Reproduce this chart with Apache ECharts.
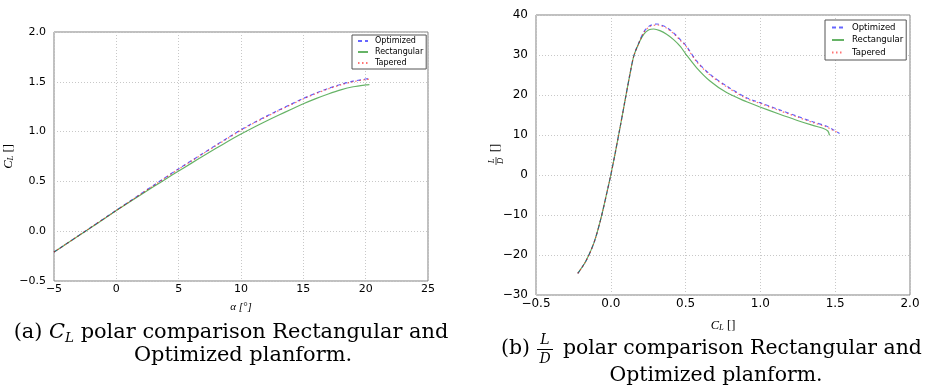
<!DOCTYPE html>
<html>
<head>
<meta charset="utf-8">
<script src="https://cdn.jsdelivr.net/npm/echarts@6/dist/echarts.min.js"></script>
<style>
html,body{margin:0;padding:0;background:#fff;}
#chart{width:932px;height:390px;}
</style>
</head>
<body>
<div id="chart"></div>
<script>
// ---------- Left chart: C_L vs alpha ----------
const alpha = [-5,-4,-3,-2,-1,0,1,2,3,4,5,6,7,8,9,10,11,12,13,14,15,16,17,18,19,20,20.3];
const clOptimized   = [-0.21,-0.126,-0.042,0.042,0.126,0.21,0.294,0.378,0.462,0.545,0.627,0.706,0.785,0.864,0.942,1.018,1.088,1.152,1.214,1.274,1.333,1.386,1.434,1.474,1.506,1.528,1.533];
const clRectangular = [-0.21,-0.127,-0.044,0.039,0.123,0.207,0.288,0.368,0.448,0.527,0.605,0.681,0.757,0.832,0.905,0.975,1.041,1.104,1.164,1.222,1.279,1.331,1.378,1.419,1.450,1.469,1.472];
const clTapered     = [-0.21,-0.126,-0.042,0.042,0.126,0.209,0.292,0.376,0.459,0.542,0.623,0.702,0.781,0.859,0.937,1.013,1.083,1.147,1.209,1.269,1.328,1.381,1.429,1.469,1.501,1.523,1.527];

// ---------- Right chart: L/D vs C_L ----------
const rOptCL = [-0.221,-0.169,-0.114,-0.069,-0.025,0,0.031,0.065,0.098,0.131,0.154,0.187,0.221,0.26,0.31,0.328,0.373,0.418,0.466,0.5,0.574,0.663,0.774,0.908,0.997,1.12,1.242,1.351,1.44,1.484,1.529];
const rOptLD = [-24.6,-21.7,-17.1,-11.3,-4.2,0,5.8,12.5,19.2,25.8,29.8,33.0,35.8,37.3,37.75,37.6,36.9,35.6,33.8,32.5,28.5,25.2,22.25,19.3,18.1,16.4,14.75,13.3,12.25,11.4,10.4];
const rRectCL = [-0.221,-0.169,-0.114,-0.069,-0.025,0,0.031,0.065,0.098,0.131,0.154,0.187,0.221,0.255,0.287,0.328,0.373,0.418,0.466,0.5,0.574,0.663,0.774,0.908,0.997,1.12,1.242,1.351,1.418,1.451,1.462];
const rRectLD = [-24.6,-21.7,-17.1,-11.3,-4.2,0,5.8,12.5,19.2,25.8,29.8,32.9,35.2,36.3,36.5,36.1,35.2,33.9,32.1,30.3,26.8,23.5,20.6,18.3,17.0,15.3,13.7,12.4,11.7,11.0,9.9];
const rTapCL = [-0.221,-0.169,-0.114,-0.069,-0.025,0,0.031,0.065,0.098,0.131,0.154,0.187,0.221,0.26,0.31,0.328,0.373,0.418,0.466,0.5,0.574,0.663,0.774,0.908,0.997,1.12,1.242,1.351,1.44,1.484,1.525];
const rTapLD = [-24.6,-21.7,-17.1,-11.3,-4.2,0,5.8,12.5,19.2,25.8,29.8,32.9,35.6,37.1,37.5,37.4,36.7,35.4,33.6,32.3,28.3,25.0,22.05,19.1,17.9,16.2,14.55,13.1,12.05,11.2,10.5];

// tick ranges
const leftX = {min:-5, max:25, interval:5};
const leftY = {min:-0.5, max:2.0, interval:0.5};
const rightX = {min:-0.5, max:2.0, interval:0.5};
const rightY = {min:-30, max:40, interval:10};

const seriesNames = ['Optimized','Rectangular','Tapered'];

const zip = (xs, ys) => xs.map((x,i)=>[x, ys[i]]);

const tickFont = 'DejaVu Sans';
const serif = 'Liberation Serif';
const capSerif = 'DejaVu Serif';
const styles = [
  {color:'rgba(0,0,255,0.6)', type:[4,3]},
  {color:'rgba(0,128,0,0.6)', type:'solid'},
  {color:'rgba(255,0,0,0.55)', type:[1.5,2.5]}
];

function mkSeries(name, idx, data, axisIdx){
  return {
    name, type:'line', xAxisIndex:axisIdx, yAxisIndex:axisIdx, data,
    symbol:'none', smooth:0.3, animation:false,
    lineStyle:{width:1.2, color:styles[idx].color, type:styles[idx].type},
    itemStyle:{color:styles[idx].color}
  };
}

const gridLine = {show:true, lineStyle:{color:'#c8c8c8', type:[1,2], width:1}};
function valAxis(rng, gridIdx, fs, extra){
  return Object.assign({
    type:'value', gridIndex:gridIdx, min:rng.min, max:rng.max, interval:rng.interval,
    axisLine:{show:false}, axisTick:{show:false}, splitLine:gridLine,
    axisLabel:{color:'#000', fontFamily:tickFont, fontSize:fs,
      formatter:(v)=>{ let s = (rng.interval<1)? v.toFixed(1) : String(Math.round(v)); return s.replace('-', '\u2212'); }}
  }, extra);
}

const nameRich = {
  i:{fontFamily:serif, fontStyle:'italic', fontSize:12.5, color:'#000'},
  s:{fontFamily:serif, fontStyle:'italic', fontSize:8.5, color:'#000', padding:[4,0,0,0]},
  n:{fontFamily:serif, fontSize:12.5, color:'#000'}
};

const capFS = 20.9;
const capFS2 = 20.4;
const capRich = {
  i:{fontFamily:capSerif, fontStyle:'italic', fontSize:capFS, fill:'#000'},
  s:{fontFamily:capSerif, fontStyle:'italic', fontSize:13.5, fill:'#000', padding:[10,0,0,0]}
};

const legendCommon = {
  data:seriesNames, orient:'vertical', borderColor:'#555', borderWidth:1, backgroundColor:'#fff',
  itemStyle:{opacity:0}
};

const chart = echarts.init(document.getElementById('chart'), null, {renderer:'canvas'});
chart.setOption({
  animation:false,
  backgroundColor:'#fff',
  grid:[
    {left:54, right:504, top:32, bottom:109, show:true, borderColor:'#808080', borderWidth:1},
    {left:536, right:22, top:15, bottom:95, show:true, borderColor:'#808080', borderWidth:1}
  ],
  legend:[
    Object.assign({}, legendCommon, {left:352, top:35, itemWidth:10, itemHeight:8, itemGap:3,
     padding:[2,3,2,5], textStyle:{fontFamily:tickFont, fontSize:8, color:'#000', padding:[0,0,0,2]}}),
    Object.assign({}, legendCommon, {left:825, top:20, itemWidth:12, itemHeight:9, itemGap:3.5,
     padding:[3,3,3,6], textStyle:{fontFamily:tickFont, fontSize:8.5, color:'#000', padding:[0,0,0,3]}})
  ],
  xAxis:[
    valAxis(leftX, 0, 11, {name:'\u03b1 [\u00b0]', nameLocation:'middle', nameGap:21,
      nameTextStyle:{fontFamily:serif, fontStyle:'italic', fontSize:11, color:'#000'},
      axisLabel:{color:'#000', fontFamily:tickFont, fontSize:11, margin:3, formatter:(v)=>String(v).replace('-', '\u2212')}}),
    valAxis(rightX, 1, 12, {name:'{i|C}{s|L} {n|[]}', nameLocation:'middle', nameGap:24,
      nameTextStyle:{rich:nameRich},
      axisLabel:{color:'#000', fontFamily:tickFont, fontSize:12, margin:3, formatter:(v)=>v.toFixed(1).replace('-', '\u2212')}})
  ],
  yAxis:[
    valAxis(leftY, 0, 11, {name:'{i|C}{s|L} {n|[]}', nameLocation:'middle', nameGap:36,
      nameTextStyle:{rich:nameRich}}),
    valAxis(rightY, 1, 12, {})
  ],
  series:[
    mkSeries('Optimized',0, zip(alpha, clOptimized), 0),
    mkSeries('Rectangular',1, zip(alpha, clRectangular), 0),
    mkSeries('Tapered',2, zip(alpha, clTapered), 0),
    mkSeries('Optimized',0, zip(rOptCL, rOptLD), 1),
    mkSeries('Rectangular',1, zip(rRectCL, rRectLD), 1),
    mkSeries('Tapered',2, zip(rTapCL, rTapLD), 1)
  ],
  graphic:[
    // right y-axis name: L/D fraction + [] (rotated)
    {type:'group', x:496, y:155, rotation:Math.PI/2, children:[
      {type:'text', x:-6, y:-4.5, style:{text:'L', fontFamily:serif, fontStyle:'italic', fontSize:8.5, fill:'#000', align:'center', verticalAlign:'middle'}},
      {type:'line', shape:{x1:-10, y1:0, x2:-2, y2:0}, style:{stroke:'#000', lineWidth:0.7}},
      {type:'text', x:-6, y:4.5, style:{text:'D', fontFamily:serif, fontStyle:'italic', fontSize:8.5, fill:'#000', align:'center', verticalAlign:'middle'}},
      {type:'text', x:7, y:0, style:{text:'[]', fontFamily:serif, fontSize:12.5, fill:'#000', align:'center', verticalAlign:'middle'}}
    ]},
    {type:'text', x:231, y:333, style:{text:'(a) {i|C}{s|L} polar comparison Rectangular and', rich:capRich, fontFamily:capSerif, fontSize:capFS, fill:'#000', align:'center', verticalAlign:'middle'}},
    {type:'text', x:243, y:356, style:{text:'Optimized planform.', fontFamily:capSerif, fontSize:capFS, fill:'#000', align:'center', verticalAlign:'middle'}},
    {type:'text', x:501, y:349, style:{text:'(b)', fontFamily:capSerif, fontSize:capFS2, fill:'#000', align:'left', verticalAlign:'middle'}},
    {type:'text', x:545, y:340, style:{text:'L', fontFamily:capSerif, fontStyle:'italic', fontSize:14, fill:'#000', align:'center', verticalAlign:'middle'}},
    {type:'line', shape:{x1:537, y1:349.5, x2:553, y2:349.5}, style:{stroke:'#000', lineWidth:1}},
    {type:'text', x:545, y:359, style:{text:'D', fontFamily:capSerif, fontStyle:'italic', fontSize:14, fill:'#000', align:'center', verticalAlign:'middle'}},
    {type:'text', x:563, y:349, style:{text:'polar comparison Rectangular and', fontFamily:capSerif, fontSize:capFS2, fill:'#000', align:'left', verticalAlign:'middle'}},
    {type:'text', x:716, y:376, style:{text:'Optimized planform.', fontFamily:capSerif, fontSize:capFS2, fill:'#000', align:'center', verticalAlign:'middle'}}
  ]
});
</script>
</body>
</html>
